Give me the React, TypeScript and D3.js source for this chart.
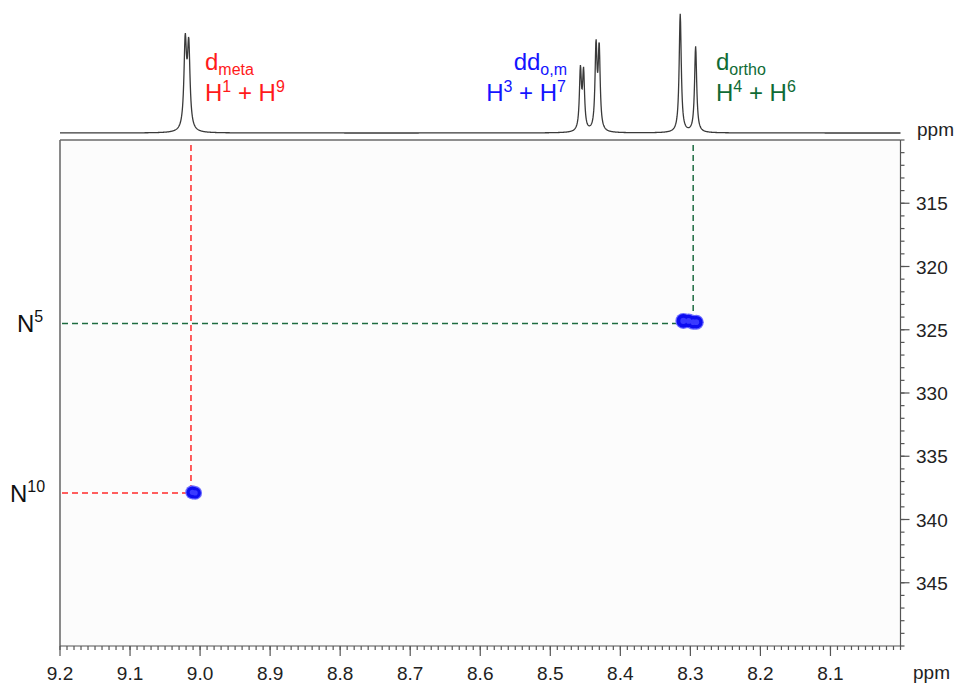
import * as d3 from "d3";

// 1H peaks of the 1D projection (ppm, intensity, half width at half height in ppm)
const peakPpm = [9.0212, 9.0162, 8.457, 8.4525, 8.4347, 8.4302, 8.3145, 8.2925];
const peakHeight = [86.5, 82, 60, 57.5, 83, 80.5, 118.5, 86];
const peakHwhm = [0.0022, 0.0022, 0.0017, 0.0017, 0.0017, 0.0017, 0.0018, 0.0018];

// 1H-15N cross peaks: 1H shift, 15N shift, relative intensity
const crossH = [8.3100, 8.3025, 8.2960, 8.2915, 9.0110, 9.0070];
const crossN = [324.3, 324.3, 324.4, 324.4, 337.85, 337.9];
const crossI = [1.0, 0.85, 0.85, 0.85, 0.75, 0.7];

// correlations drawn as dashed guides
const corrH = [9.013, 8.296];
const corrN = [337.9, 324.5];
const corrColor = ["#ff2a2a", "#1d6b40"];
const nLabels = ["10", "5"];

const xTicks = [9.2, 9.1, 9.0, 8.9, 8.8, 8.7, 8.6, 8.5, 8.4, 8.3, 8.2, 8.1];
const yTicks = [315, 320, 325, 330, 335, 340, 345];

const W = 959;
const H = 685;
const left = 60;
const right = 900.5;
const top = 140;
const bottom = 646;
const specBase = 133;
const font = "'Liberation Sans', Arial, Helvetica, sans-serif";

export default function App() {
  const x = d3.scaleLinear().domain([9.2, 8.0]).range([left, right]);
  const y = d3.scaleLinear().domain([310, 350]).range([top, bottom]);
  const ys = d3.scaleLinear().domain([0, 130]).range([specBase, specBase - 130]);
  const r = d3.scaleSqrt().domain([0, 1]).range([0, 6.8]);

  const grid = d3.range(0, 2401).map((i) => 9.2 - i * 0.0005);
  const spec = grid.map((p) => {
    let s = 0;
    peakPpm.forEach((c, k) => {
      const t = (p - c) / peakHwhm[k];
      s += peakHeight[k] / (1 + t * t);
    });
    return [p, s] as [number, number];
  });
  const line = d3
    .line<[number, number]>()
    .x((d) => x(d[0]))
    .y((d) => ys(d[1]));

  const minorX = d3.range(0, 121).map((i) => 9.2 - i * 0.01);
  const minorY = d3.range(310, 351);

  const sup = { fontSize: 16 };

  return (
    <svg
      width={W}
      height={H}
      style={{ position: "absolute", left: 0, top: 0, background: "#fff" }}
      fontFamily={font}
    >
      {/* plot area */}
      <rect x={left} y={top} width={right - left} height={bottom - top} fill="#fcfcfc" />

      {/* 1D projection */}
      <path d={line(spec) || ""} fill="none" stroke="#3a3a3a" strokeWidth={1.3} />
      <text x={917} y={136} fontSize={19} fill="#222">ppm</text>

      {/* peak labels */}
      <g fontSize={24}>
        <text x={205} y={70} fill="#ff1a1a">
          d<tspan fontSize={16} dy={5}>meta</tspan>
        </text>
        <text x={205} y={101} fill="#ff1a1a">
          H<tspan {...sup} dy={-9}>1</tspan>
          <tspan dy={9}> + H</tspan>
          <tspan {...sup} dy={-9}>9</tspan>
        </text>
        <text x={567} y={70} fill="#1414ff" textAnchor="end">
          dd<tspan fontSize={16} dy={5}>o,m</tspan>
        </text>
        <text x={566} y={101} fill="#1414ff" textAnchor="end">
          H<tspan {...sup} dy={-9}>3</tspan>
          <tspan dy={9}> + H</tspan>
          <tspan {...sup} dy={-9}>7</tspan>
        </text>
        <text x={716} y={70} fill="#0f6b35">
          d<tspan fontSize={16} dy={5}>ortho</tspan>
        </text>
        <text x={716} y={101} fill="#0f6b35">
          H<tspan {...sup} dy={-9}>4</tspan>
          <tspan dy={9}> + H</tspan>
          <tspan {...sup} dy={-9}>6</tspan>
        </text>
      </g>

      {/* dashed correlation guides */}
      {corrH.map((h, i) => (
        <g key={"c" + i} stroke={corrColor[i]} strokeWidth={1.5} strokeDasharray="6 4" fill="none">
          <line x1={x(h)} x2={x(h)} y1={top + 5} y2={y(corrN[i])} />
          <line x1={left + 2} x2={x(h)} y1={y(corrN[i])} y2={y(corrN[i])} />
        </g>
      ))}

      {/* cross peaks */}
      {crossH.map((h, i) => (
        <circle key={"o" + i} cx={x(h)} cy={y(crossN[i])} r={r(crossI[i]) + 1.2} fill="#6b6bff" />
      ))}
      {crossH.map((h, i) => (
        <circle key={"p" + i} cx={x(h)} cy={y(crossN[i])} r={r(crossI[i])} fill="#0d0df0" />
      ))}
      {crossH.map((h, i) => (
        <circle key={"q" + i} cx={x(h)} cy={y(crossN[i])} r={r(crossI[i]) * 0.45} fill="#3a3aff" />
      ))}

      {/* N labels */}
      {corrN.map((n, i) => (
        <text key={"n" + i} x={i === 0 ? 10 : 17} y={y(n) + 9} fontSize={24} fill="#111">
          N<tspan fontSize={16} dy={-10}>{nLabels[i]}</tspan>
        </text>
      ))}

      {/* frame */}
      <line x1={left} x2={left} y1={top} y2={bottom} stroke="#8a8a8a" strokeWidth={2} />
      <line x1={left} x2={right} y1={top} y2={top} stroke="#6a6a6a" strokeWidth={1.3} />

      {/* bottom axis */}
      <g stroke="#555" strokeWidth={1.2}>
        <line x1={left} x2={right} y1={bottom} y2={bottom} />
        {minorX.map((v, i) => (
          <line key={"mx" + i} x1={x(v)} x2={x(v)} y1={bottom} y2={bottom + 4} />
        ))}
        {xTicks.map((v) => (
          <line key={"tx" + v} x1={x(v)} x2={x(v)} y1={bottom} y2={bottom + 10} />
        ))}
      </g>
      {xTicks.map((v) => (
        <text key={"lx" + v} x={x(v)} y={680} fontSize={19} textAnchor="middle" fill="#222">
          {d3.format(".1f")(v)}
        </text>
      ))}
      <text x={913} y={679} fontSize={19} fill="#222">ppm</text>

      {/* right axis */}
      <g stroke="#555" strokeWidth={1.2}>
        <line x1={right} x2={right} y1={top} y2={bottom} />
        {minorY.map((v) => (
          <line key={"my" + v} x1={right} x2={right + 4} y1={y(v)} y2={y(v)} />
        ))}
        {yTicks.map((v) => (
          <line key={"ty" + v} x1={right} x2={right + 9} y1={y(v)} y2={y(v)} />
        ))}
      </g>
      {yTicks.map((v) => (
        <text key={"ly" + v} x={916} y={y(v) + 7} fontSize={19} fill="#222">
          {v}
        </text>
      ))}
    </svg>
  );
}
